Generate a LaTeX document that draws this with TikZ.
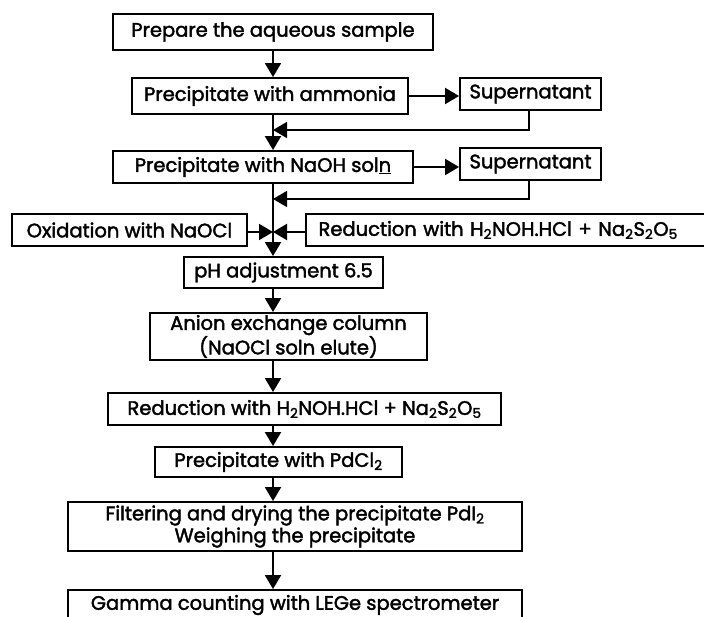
\documentclass[tikz,border=0pt]{standalone}
\usepackage{fontspec}
\newfontfamily\pfont{Poppins}[FakeBold=2]
\usetikzlibrary{arrows.meta}
\begin{document}
\begin{tikzpicture}[x=1pt,y=-1pt,
  box/.style={draw,line width=1.9pt,inner sep=0pt,align=center,font=\pfont\fontsize{19.5}{22}\selectfont},
  arr/.style={line width=2pt,-{Triangle[length=14pt,width=16pt]}},
  ret/.style={line width=1.5pt,-{Triangle[length=14pt,width=16pt]}}]
\useasboundingbox (0,0) rectangle (704,617);
\clip (0,0) rectangle (704,617);
\coordinate (m) at (273,0);
\node[box,minimum width=320pt,minimum height=36pt] (b1) at (273,32) {Prepare the aqueous sample};
\node[box,minimum width=276pt,minimum height=36pt] (b2) at (270,96) {Precipitate with ammonia};
\node[box,minimum width=141pt,minimum height=32pt] (s1) at (530.5,94) {Supernatant};
\node[box,minimum width=300pt,minimum height=32pt] (b3) at (263,167) {Precipitate with NaOH sol\underline{n}};
\node[box,minimum width=141pt,minimum height=32pt] (s2) at (530.5,164) {Supernatant};
\node[box,minimum width=235pt,minimum height=32pt] (ox) at (129.5,230) {Oxidation with NaOCl};
\node[box,minimum width=410pt,minimum height=32pt,text width=385pt,align=left] (r1) at (511,230) {Reduction with H\textsubscript{2}NOH.HCl + Na\textsubscript{2}S\textsubscript{2}O\textsubscript{5}};
\node[box,minimum width=199pt,minimum height=31pt] (ph) at (283.5,272.5) {pH adjustment 6.5};
\node[box,minimum width=277pt,minimum height=47pt] (an) at (288.5,336.5) {Anion exchange column\\(NaOCl soln elute)};
\node[box,minimum width=393pt,minimum height=32pt] (r2) at (304.5,409) {Reduction with H\textsubscript{2}NOH.HCl + Na\textsubscript{2}S\textsubscript{2}O\textsubscript{5}};
\node[box,minimum width=247pt,minimum height=30pt] (pd) at (278.5,462) {Precipitate with PdCl\textsubscript{2}};
\node[box,minimum width=454pt,minimum height=49pt] (fi) at (295,526.5) {Filtering and drying the precipitate PdI\textsubscript{2}\\Weighing the precipitate};
\node[box,minimum width=454pt,minimum height=30pt] (ga) at (295,605) {Gamma counting with LEGe spectrometer};
\draw[arr] (b1.south -| m) -- (b2.north -| m);
\draw[arr] (b2.south -| m) -- (b3.north -| m);
\draw[arr] (b3.south -| m) -- (ph.north -| m);
\draw[arr] (ph.south -| m) -- (an.north -| m);
\draw[arr] (an.south -| m) -- (r2.north -| m);
\draw[arr] (r2.south -| m) -- (pd.north -| m);
\draw[arr] (pd.south -| m) -- (fi.north -| m);
\draw[arr] (fi.south -| m) -- (ga.north -| m);
\draw[arr] (b2.east) -- (b2.east -| s1.west);
\draw[arr] (b3.east) -- (b3.east -| s2.west);
\coordinate (j1) at (529,130);
\coordinate (j2) at (529,199);
\coordinate (j3) at (0,232);
\draw[ret] (s1.south -| j1) -- (j1) -- (j1 -| m);
\draw[ret] (s2.south -| j2) -- (j2) -- (j2 -| m);
\draw[arr] (ox.east |- j3) -- (j3 -| m);
\draw[arr] (r1.west |- j3) -- (j3 -| m);
\end{tikzpicture}
\end{document}
